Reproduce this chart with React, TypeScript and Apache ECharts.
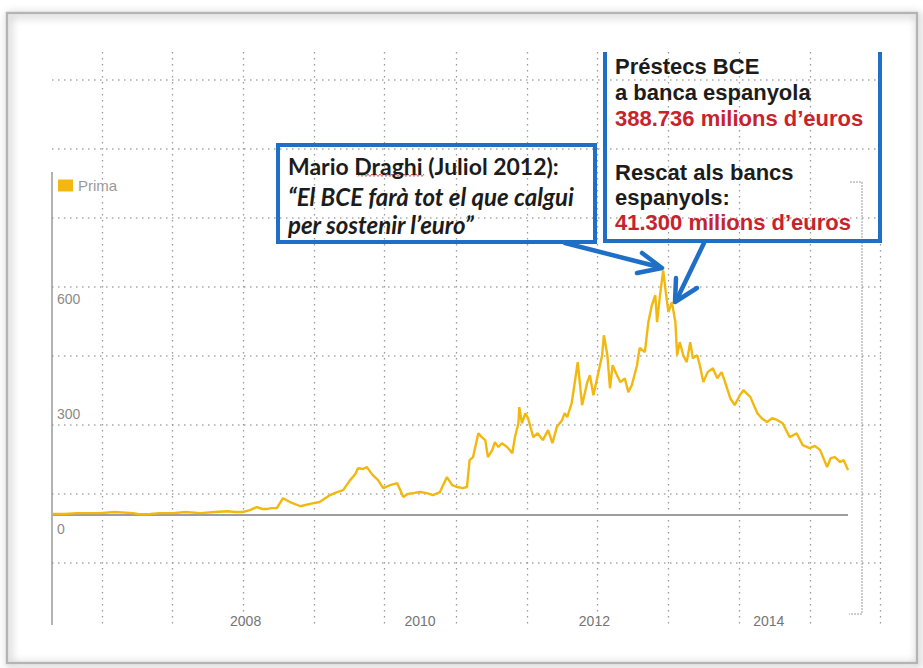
import React, { useEffect, useRef } from "react";
import * as echarts from "echarts";

// Spanish risk premium (basis points)
const years: number[] = [
  2005.61, 2005.75, 2005.89, 2006.04, 2006.15, 2006.32, 2006.53, 2006.61, 2006.73, 2006.84,
  2006.99, 2007.13, 2007.30, 2007.47, 2007.61, 2007.70, 2007.79, 2007.87, 2007.95, 2008.01,
  2008.07, 2008.12, 2008.18, 2008.25, 2008.33, 2008.45, 2008.56, 2008.67, 2008.79, 2008.87,
  2008.94, 2009.02, 2009.08, 2009.11, 2009.17, 2009.21, 2009.28, 2009.34, 2009.40, 2009.48,
  2009.56, 2009.63, 2009.68, 2009.74, 2009.82, 2009.90, 2009.97, 2010.05, 2010.13, 2010.19,
  2010.25, 2010.31, 2010.36, 2010.39, 2010.43, 2010.49, 2010.53, 2010.57, 2010.60, 2010.65,
  2010.68, 2010.72, 2010.76, 2010.82, 2010.88, 2010.91, 2010.95, 2010.96, 2010.99, 2011.03,
  2011.06, 2011.12, 2011.17, 2011.23, 2011.29, 2011.34, 2011.39, 2011.45, 2011.48, 2011.51,
  2011.56, 2011.60, 2011.63, 2011.68, 2011.74, 2011.77, 2011.81, 2011.86, 2011.91, 2011.93,
  2011.97, 2012.00, 2012.03, 2012.08, 2012.12, 2012.17, 2012.21, 2012.25, 2012.31, 2012.34,
  2012.40, 2012.44, 2012.48, 2012.52, 2012.54, 2012.57, 2012.61, 2012.64, 2012.67, 2012.71,
  2012.75, 2012.77, 2012.80, 2012.84, 2012.88, 2012.92, 2012.95, 2013.00, 2013.03, 2013.07,
  2013.12, 2013.18, 2013.23, 2013.28, 2013.32, 2013.38, 2013.43, 2013.49, 2013.53, 2013.61,
  2013.69, 2013.74, 2013.80, 2013.86, 2013.92, 2013.98, 2014.06, 2014.14, 2014.21, 2014.29,
  2014.35, 2014.41, 2014.49, 2014.53, 2014.58, 2014.64, 2014.68, 2014.73,
];
const spread: number[] = [
  3, 3, 5, 5, 5, 8, 5, 2, 3, 5,
  5, 8, 5, 8, 10, 8, 8, 13, 21, 16,
  16, 18, 18, 44, 34, 23, 29, 34, 52, 60,
  65, 91, 107, 122, 120, 125, 104, 91, 70, 78,
  83, 47, 55, 57, 60, 57, 52, 60, 99, 78,
  73, 70, 73, 143, 151, 213, 203, 195, 151, 169,
  190, 177, 187, 177, 161, 203, 239, 281, 239, 265,
  252, 203, 213, 195, 221, 187, 229, 247, 265, 255,
  291, 351, 398, 286, 346, 364, 312, 364, 416, 468,
  416, 330, 390, 364, 346, 356, 320, 338, 390, 435,
  424, 502, 546, 572, 502, 565, 637, 580, 528, 554,
  502, 416, 450, 416, 398, 450, 408, 416, 390, 346,
  372, 382, 356, 372, 346, 304, 286, 312, 325, 307,
  265, 252, 242, 252, 247, 239, 203, 213, 182, 174,
  180, 169, 125, 148, 151, 138, 143, 117,
];

const seriesName = "Prima";
const yearLabels: number[] = [2008, 2010, 2012, 2014];
const valueLabels: number[] = [0, 300, 600];
// decorative dotted grid (independent of the value scales, as in the source chart)
const xGridValues: number[] = [
  2006.174, 2006.977, 2007.791, 2008.606, 2009.408, 2010.234, 2011.048, 2011.851,
  2012.665, 2013.479, 2014.294, 2015.1,
];
const yGridValues: number[] = [-125, 54.5, 234, 413.5, 593, 772.5, 952, 1131.5];
const X_MIN = 2005.601;
const X_MAX = 2015.108;
const Y_MIN = -286;
const Y_MAX = 1205;

const draghiLines: string[] = [
  "Mario Draghi (Juliol 2012):",
  "“El BCE farà tot el que calgui",
  "per sostenir l’euro”",
];
const bceLines: { text: string; red: boolean }[] = [
  { text: "Préstecs BCE", red: false },
  { text: "a banca espanyola", red: false },
  { text: "388.736 milions d’euros", red: true },
  { text: "Rescat als bancs", red: false },
  { text: "espanyols:", red: false },
  { text: "41.300 milions d’euros", red: true },
];

const BLUE = "#1f6fc6";
const GOLD = "#f2b80f";
const GRID_GREY = "#a8a8a8";
const ARIAL = "'Liberation Sans', Arial, sans-serif";
const DOTS = { color: GRID_GREY, width: 1.5, type: [1.5, 4.5] };

export default function App() {
  const ref = useRef<HTMLDivElement>(null);

  useEffect(() => {
    if (!ref.current) return;
    const chart = echarts.init(ref.current, undefined, { renderer: "svg" });

    const lineData = years.map((y, i) => [y, spread[i]]);
    const bceY = [66, 92, 118, 172, 197, 222];
    const draghiY = [166, 196, 224];

    const squiggle: number[][] = [];
    for (let x = 358; x <= 424; x += 2) squiggle.push([x, (x / 2) % 2 === 0 ? 174 : 176.5]);

    const graphics: any[] = [
      {
        id: "frame",
        type: "rect",
        shape: { x: 7, y: 13, width: 910, height: 650 },
        style: {
          fill: "none",
          stroke: "#b4b4b4",
          lineWidth: 2.5,
          shadowBlur: 8,
          shadowColor: "rgba(0,0,0,0.4)",
          shadowOffsetX: 2,
          shadowOffsetY: 2,
        },
        silent: true,
        z: 0,
      },
      {
        id: "yaxisline",
        type: "line",
        shape: { x1: 52, y1: 172, x2: 52, y2: 625 },
        style: { stroke: "#9a9a9a", lineWidth: 1.5 },
        z: 5,
      },
      {
        id: "bracket",
        type: "polyline",
        shape: { points: [[850, 182], [862, 182], [862, 614], [849, 614]] },
        style: { stroke: "#9d9d9d", lineWidth: 1, fill: "none", lineDash: [2, 1] },
        z: 5,
      },
      {
        id: "draghiBox",
        type: "rect",
        shape: { x: 278, y: 145, width: 317, height: 97 },
        style: { fill: "none", stroke: BLUE, lineWidth: 4 },
        z: 20,
      },
      {
        id: "bceBox",
        type: "polyline",
        shape: { points: [[605, 52], [605, 241], [880, 241], [880, 52]] },
        style: { fill: "none", stroke: BLUE, lineWidth: 4 },
        z: 20,
      },
      {
        id: "arrow1",
        type: "polyline",
        shape: { points: [[565, 243], [659, 267]] },
        style: { fill: "none", stroke: BLUE, lineWidth: 4.5, lineCap: "round" },
        z: 20,
      },
      {
        id: "arrow1head",
        type: "polyline",
        shape: { points: [[642, 253], [662, 268], [637, 273]] },
        style: { fill: "none", stroke: BLUE, lineWidth: 4.5, lineCap: "round", lineJoin: "round" },
        z: 20,
      },
      {
        id: "arrow2",
        type: "polyline",
        shape: { points: [[704, 243], [677, 299]] },
        style: { fill: "none", stroke: BLUE, lineWidth: 4.5, lineCap: "round" },
        z: 20,
      },
      {
        id: "arrow2head",
        type: "polyline",
        shape: { points: [[676, 278], [675, 302], [697, 288]] },
        style: { fill: "none", stroke: BLUE, lineWidth: 4.5, lineCap: "round", lineJoin: "round" },
        z: 20,
      },
      {
        id: "squiggle",
        type: "polyline",
        shape: { points: squiggle },
        style: { fill: "none", stroke: "#e0524f", lineWidth: 1 },
        z: 21,
      },
    ];

    draghiLines.forEach((t, i) => {
      graphics.push({
        id: "draghi" + i,
        type: "text",
        x: 288,
        y: draghiY[i],
        style: {
          text: t,
          fill: "#1c1c1c",
          fontFamily: "Lato, 'Open Sans', sans-serif",
          fontWeight: "bold",
          fontStyle: i === 0 ? "normal" : "italic",
          fontSize: i === 0 ? 23 : 24,
          align: "left",
          verticalAlign: "middle",
        },
        z: 22,
      });
    });

    bceLines.forEach((l, i) => {
      graphics.push({
        id: "bce" + i,
        type: "text",
        x: 615,
        y: bceY[i],
        style: {
          text: l.text,
          fill: l.red ? "#c8232c" : "#1c1c1c",
          fontFamily: ARIAL,
          fontWeight: "bold",
          fontSize: 22,
          align: "left",
          verticalAlign: "middle",
        },
        z: 22,
      });
    });

    const option: any = {
      animation: false,
      backgroundColor: "#ffffff",
      textStyle: { fontFamily: ARIAL },
      grid: {
        left: 52,
        right: 42,
        top: 52,
        bottom: 43,
        containLabel: false,
        outerBoundsMode: "none",
      },
      legend: {
        data: [seriesName],
        left: 53,
        top: 173,
        icon: "rect",
        itemWidth: 15,
        itemHeight: 12,
        textStyle: { color: "#9a9a9a", fontSize: 15, fontFamily: ARIAL },
        selectedMode: false,
      },
      xAxis: {
        type: "value",
        min: X_MIN,
        max: X_MAX,
        axisLine: { show: false },
        axisTick: { show: false },
        axisLabel: {
          customValues: yearLabels,
          formatter: (v: number) => String(Math.round(v)),
          align: "right",
          margin: -11,
          color: "#747474",
          fontSize: 14,
          fontFamily: ARIAL,
        },
        splitLine: { show: false },
      },
      yAxis: {
        type: "value",
        min: Y_MIN,
        max: Y_MAX,
        axisLine: { show: false },
        axisTick: { show: false, customValues: yGridValues },
        axisLabel: {
          customValues: valueLabels,
          inside: true,
          margin: 5,
          verticalAlign: "top",
          padding: [7, 0, 0, 0],
          color: "#8a8a8a",
          fontSize: 14,
          fontFamily: ARIAL,
        },
        splitLine: { show: true, lineStyle: DOTS },
      },
      series: [
        {
          name: seriesName,
          type: "line",
          data: lineData,
          showSymbol: false,
          symbol: "none",
          lineStyle: { color: GOLD, width: 2.4 },
          itemStyle: { color: GOLD },
          z: 10,
          markLine: {
            silent: true,
            symbol: ["none", "none"],
            label: { show: false },
            emphasis: { disabled: true },
            lineStyle: { color: "#9d9d9d", width: 2, type: "solid" },
            data: [[{ coord: [years[0], 0] }, { coord: [years[years.length - 1], 0] }]],
            z: 9,
          },
        },
      ],
      graphic: graphics,
    };

    chart.setOption(option);

    // vertical dotted grid, placed through the x axis scale
    const yTop = chart.convertToPixel({ yAxisIndex: 0 }, Y_MAX) as number;
    const yBottom = chart.convertToPixel({ yAxisIndex: 0 }, Y_MIN) as number;
    const vLines = xGridValues.map((v, i) => {
      const px = Math.round(chart.convertToPixel({ xAxisIndex: 0 }, v) as number) + 0.5;
      return {
        id: "vgrid" + i,
        type: "polyline",
        silent: true,
        shape: { points: [[px, yTop], [px + 0.02, (yTop + yBottom) / 2], [px, yBottom]] },
        style: { stroke: "#9a9a9a", lineWidth: 1.3, lineDash: [1.5, 4.5], fill: "none" },
        z: 5,
      };
    });
    chart.setOption({ graphic: [...graphics, ...vLines] });

    return () => chart.dispose();
  }, []);

  return (
    <div
      ref={ref}
      style={{ position: "absolute", left: 0, top: 0, width: 923, height: 668, background: "#fff" }}
    />
  );
}
